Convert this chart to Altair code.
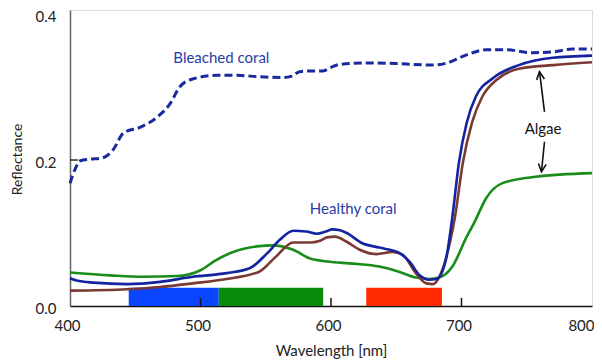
import altair as alt
import pandas as pd

# ---------------- data ----------------
bleached_wl = [400, 404, 408, 415, 425, 433, 441, 454, 467, 477, 484, 494, 512, 528, 545, 563, 570, 576,
               586, 594, 600, 607, 627, 652, 678, 689, 701, 719, 734, 754, 770, 785, 800]
bleached_val = [0.168, 0.188, 0.199, 0.201, 0.203, 0.214, 0.237, 0.245, 0.259, 0.278, 0.300, 0.311, 0.316,
                0.316, 0.314, 0.313, 0.315, 0.321, 0.322, 0.322, 0.327, 0.331, 0.333, 0.332, 0.330, 0.333,
                0.342, 0.351, 0.351, 0.347, 0.348, 0.352, 0.352]

healthy_wl = [400, 405, 418, 444, 469, 494, 520, 538, 551, 561, 571, 581, 589, 596, 601, 606, 612, 624,
              637, 652, 660, 668, 675, 681, 688, 693, 698, 704, 711, 724, 744, 770, 800]
healthy_val = [0.038, 0.035, 0.032, 0.030, 0.033, 0.040, 0.045, 0.052, 0.072, 0.091, 0.103, 0.102, 0.099,
               0.102, 0.105, 0.104, 0.100, 0.086, 0.080, 0.073, 0.061, 0.042, 0.036, 0.037, 0.063, 0.122,
               0.196, 0.251, 0.287, 0.312, 0.330, 0.340, 0.343]

brown_wl = [400, 444, 469, 494, 520, 545, 558, 571, 584, 591, 597, 603, 612, 622, 635, 647, 655, 665,
            673, 678, 683, 691, 695, 701, 708, 716, 727, 744, 770, 800]
brown_val = [0.021, 0.023, 0.026, 0.031, 0.037, 0.047, 0.068, 0.087, 0.087, 0.089, 0.094, 0.095, 0.088,
             0.077, 0.071, 0.074, 0.070, 0.045, 0.031, 0.030, 0.040, 0.086, 0.122, 0.196, 0.251, 0.287,
             0.310, 0.325, 0.330, 0.334]

green_wl = [400, 431, 456, 482, 500, 512, 525, 545, 555, 571, 584, 597, 617, 637, 652, 665, 675, 683,
            693, 704, 710, 719, 731, 757, 800]
green_val = [0.046, 0.042, 0.040, 0.041, 0.049, 0.063, 0.074, 0.082, 0.083, 0.077, 0.065, 0.061, 0.058,
             0.054, 0.047, 0.039, 0.037, 0.039, 0.054, 0.095, 0.115, 0.148, 0.168, 0.177, 0.182]

band_start = [445, 514, 627]
band_end = [514, 594, 685]
band_top = [0.025, 0.025, 0.025]
band_color = ["#0a46ff", "#0a8a0a", "#ff2a00"]

x_ticks = [400, 500, 600, 700, 800]
y_ticks = [0.0, 0.2, 0.4]
inner_x_ticks = [500, 600, 700]
inner_y_ticks = [0.2]

label_text = ["Bleached coral", "Healthy coral", "Algae"]
label_x = [516, 617, 762.5]
label_y = [0.340, 0.1325, 0.243]
label_color = ["#2b3ca6", "#2b3ca6", "#111111"]

arrow_x1 = [763.6, 763.6]
arrow_y1 = [0.266, 0.225]
arrow_x2 = [759.8, 761.3]
arrow_y2 = [0.321, 0.184]
arrow_angle = [353, 186]

# ---------------- helpers ----------------
FONT = "Lato"
XS = alt.Scale(domain=[400, 800], nice=False, zero=False)
YS = alt.Scale(domain=[0, 0.4055], nice=False)
XA = alt.Axis(values=x_ticks, grid=False, ticks=False, tickSize=0, labelPadding=12, labelFlush=False,
              labelAlign={"condition": {"test": "datum.value >= 800", "value": "right"}, "value": "center"},
              labelOffset={"condition": {"test": "datum.value >= 800", "value": 2}, "value": -3},
              domainColor="#111111", domainWidth=1.5, labelFontSize=15, labelColor="#222222",
              titleFontSize=15, titleFontWeight="normal", titleColor="#222222",
              titleY=44, titleBaseline="middle", labelFont=FONT, titleFont=FONT)
YA = alt.Axis(values=y_ticks, format=".1f", grid=False, ticks=False, tickSize=0, labelPadding=14,
              labelOffset=2, labelFlush=False,
              domainColor="#666666", domainWidth=1.5, labelFontSize=15, labelColor="#222222",
              titleFontSize=14, titleFontWeight="normal", titleColor="#222222",
              titleX=-53, titleY=149, titleBaseline="middle", titleAlign="center",
              labelFont=FONT, titleFont=FONT)


def X(f):
    return alt.X(f, type="quantitative", scale=XS, axis=XA, title="Wavelength [nm]")


def Y(f):
    return alt.Y(f, type="quantitative", scale=YS, axis=YA, title="Reflectance")


bands = pd.DataFrame({"x": band_start, "x2": band_end, "y": [0] * 3, "y2": band_top, "c": band_color})
band_layer = alt.Chart(bands).mark_rect().encode(
    x=X("x"), x2="x2", y=Y("y"), y2="y2", color=alt.Color("c:N", scale=None))

xt = pd.DataFrame({"x": inner_x_ticks, "y": [0] * 3, "y2": [0.011] * 3})
xtick_layer = alt.Chart(xt).mark_rule(color="#111111", strokeWidth=1.5).encode(
    x=X("x"), y=Y("y"), y2="y2")
yt = pd.DataFrame({"x": [400], "x2": [406], "y": inner_y_ticks})
ytick_layer = alt.Chart(yt).mark_rule(color="#333333", strokeWidth=1.5).encode(
    x=X("x"), x2="x2", y=Y("y"))


def line(wl, val, color, dash=None, width=2.6):
    df = pd.DataFrame({"x": wl, "y": val})
    kw = dict(color=color, strokeWidth=width, interpolate="monotone")
    if dash:
        kw["strokeDash"] = dash
    return alt.Chart(df).mark_line(**kw).encode(x=X("x"), y=Y("y"))


green_layer = line(green_wl, green_val, "#1a8c1a")
brown_layer = line(brown_wl, brown_val, "#7a3a33")
healthy_layer = line(healthy_wl, healthy_val, "#1423a0")
bleached_layer = line(bleached_wl, bleached_val, "#1a2a9e", dash=[8, 4], width=3)

labels = pd.DataFrame({"x": label_x, "y": label_y, "t": label_text, "c": label_color})
label_layer = alt.Chart(labels).mark_text(font=FONT, fontSize=15, baseline="middle", align="center").encode(
    x=X("x"), y=Y("y"), text="t:N", color=alt.Color("c:N", scale=None))

arrows = pd.DataFrame({"x": arrow_x1, "y": arrow_y1, "x2": arrow_x2, "y2": arrow_y2, "a": arrow_angle})
shaft_layer = alt.Chart(arrows).mark_rule(color="#111111", strokeWidth=1.6).encode(
    x=X("x"), y=Y("y"), x2="x2", y2="y2")
head_layer = alt.Chart(arrows).mark_point(
    shape="M-0.45,0.9L0,0L0.45,0.9", filled=False, stroke="#111111", strokeWidth=1.6, size=300,
    opacity=1).encode(x=X("x2"), y=Y("y2"), angle=alt.Angle("a:Q", scale=None))

chart = alt.layer(
    band_layer, xtick_layer, ytick_layer, green_layer, brown_layer, healthy_layer, bleached_layer,
    label_layer, shaft_layer, head_layer
).properties(
    width=522, height=296,
    autosize=alt.AutoSizeParams(type="none"),
    padding={"left": 62, "top": 2, "right": 2, "bottom": 54},
).configure_view(stroke="#8a8a8a", strokeWidth=1).configure(background="white")

chart.save("out.html", embed_options={"renderer": "svg", "actions": False})
